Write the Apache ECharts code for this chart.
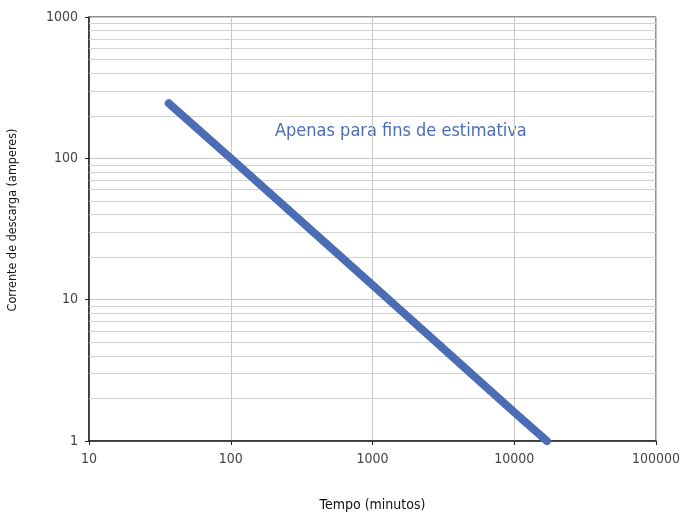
<!DOCTYPE html>
<html>
<head>
<meta charset="utf-8">
<script src="https://cdn.jsdelivr.net/npm/echarts@6/dist/echarts.min.js"></script>
<style>
  html, body { margin: 0; padding: 0; background: #fff; }
  #chart { width: 682px; height: 512px; }
</style>
</head>
<body>
<div id="chart"></div>
<script>
// tempo (min) x corrente (A)
const tempoMin = [36.5, 100, 1000, 10000, 17000];
const correnteA = [245, 100, 12.7, 1.6, 1];
// linhas secundárias da grade (2..9 por década)
const minorY = [2, 3, 4, 5, 6, 7, 8, 9, 20, 30, 40, 50, 60, 70, 80, 90, 200, 300, 400, 500, 600, 700, 800, 900];

const FONT = "'DejaVu Sans Condensed', 'Liberation Sans', Arial, sans-serif";

const chart = echarts.init(document.getElementById('chart'));

const option = {
    animation: false,
    grid: {
        left: 89,
        right: 26,
        top: 17,
        bottom: 71,
        outerBoundsMode: 'none',
        show: true,
        borderColor: '#222',
        borderWidth: 1
    },
    xAxis: {
        type: 'log',
        logBase: 10,
        min: 10,
        max: 100000,
        name: 'Tempo (minutos)',
        nameLocation: 'middle',
        nameGap: 57,
        nameTextStyle: { color: '#111', fontSize: 14, fontFamily: FONT },
        axisLine: { lineStyle: { color: '#222', width: 1.5 } },
        axisTick: { show: true, length: 4, lineStyle: { color: '#222' } },
        axisLabel: {
            color: '#444',
            fontSize: 14,
            fontFamily: FONT,
            margin: 11,
            formatter: v => String(v)
        },
        splitLine: { show: true, lineStyle: { color: '#c8c8c8', width: 1 } }
    },
    yAxis: {
        type: 'log',
        logBase: 10,
        min: 1,
        max: 1000,
        name: 'Corrente de descarga (amperes)',
        nameLocation: 'middle',
        nameGap: 70,
        nameTextStyle: { color: '#111', fontSize: 12.5, fontFamily: FONT, padding: [0, 0, 0, 18] },
        axisLine: { show: true, lineStyle: { color: '#222', width: 1.5 } },
        axisTick: { show: true, length: 4, lineStyle: { color: '#222' } },
        axisLabel: {
            color: '#444',
            fontSize: 14,
            fontFamily: FONT,
            margin: 11,
            formatter: v => String(v)
        },
        splitLine: { show: true, lineStyle: { color: '#c8c8c8', width: 1 } }
    },
    series: [
        {
            type: 'line',
            data: tempoMin.map((t, i) => [t, correnteA[i]]),
            showSymbol: false,
            symbol: 'none',
            z: 5,
            lineStyle: { color: '#4a6db5', width: 8, cap: 'round' },
            markLine: {
                silent: true,
                symbol: ['none', 'none'],
                label: { show: false },
                z: 1,
                lineStyle: { color: '#d2d2d2', width: 1, type: 'solid' },
                data: minorY.map(v => ({ yAxis: v }))
            }
        }
    ],
    graphic: [
        {
            type: 'text',
            left: 275,
            top: 122,
            style: {
                text: 'Apenas para fins de estimativa',
                fill: '#4a6db5',
                font: "18px " + FONT
            }
        }
    ]
};

chart.setOption(option);
</script>
</body>
</html>
